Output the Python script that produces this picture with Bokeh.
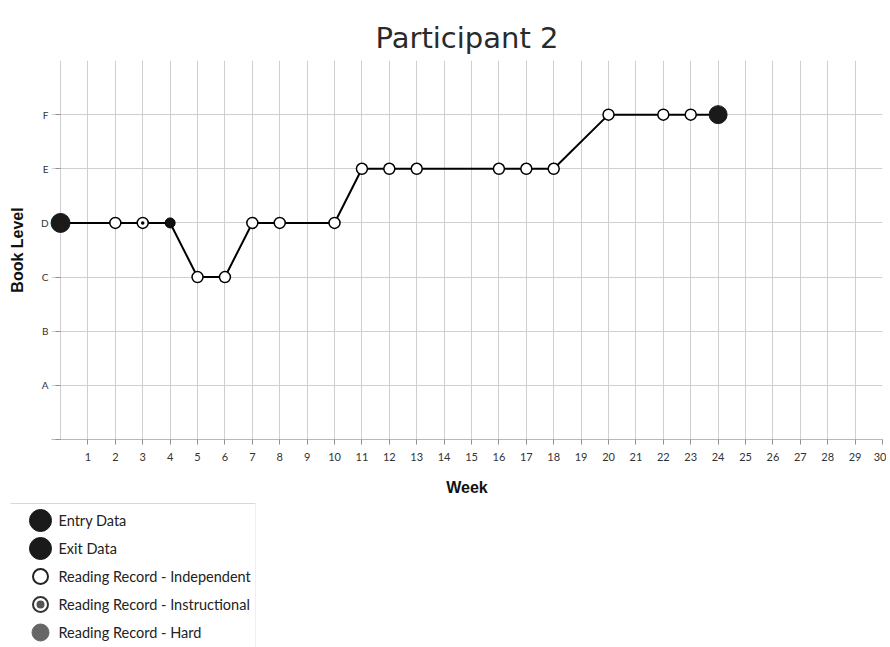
from bokeh.plotting import figure
from bokeh.models import Range1d, FixedTicker, Title, ColumnDataSource
from bokeh.layouts import column
from bokeh.embed import file_html
from bokeh.resources import INLINE
from bokeh.core.properties import value

# ---- data ----
weeks = [0, 2, 3, 4, 5, 6, 7, 8, 10, 11, 12, 13, 16, 17, 18, 20, 22, 23, 24]
levels = ["D", "D", "D", "D", "C", "C", "D", "D", "D", "E", "E", "E", "E", "E", "E", "F", "F", "F", "F"]
kinds = ["entry", "independent", "instructional", "hard", "independent", "independent",
         "independent", "independent", "independent", "independent", "independent",
         "independent", "independent", "independent", "independent", "independent",
         "independent", "independent", "exit"]
level_names = ["A", "B", "C", "D", "E", "F"]
week_ticks = list(range(1, 31))
legend_labels = ["Entry Data", "Exit Data", "Reading Record - Independent",
                 "Reading Record - Instructional", "Reading Record - Hard"]
legend_kinds = ["entry", "exit", "independent", "instructional", "hard"]
title_text = "Participant 2"

level_num = {name: i + 1 for i, name in enumerate(level_names)}
yvals = [level_num[l] for l in levels]

def pick(kind):
    xs = [w for w, k in zip(weeks, kinds) if k == kind]
    ys = [y for y, k in zip(yvals, kinds) if k == kind]
    return xs, ys

FONT = "Lato"

p = figure(width=886, height=498, output_backend="svg", toolbar_location=None,
           x_range=Range1d(-0.33, 30), y_range=Range1d(0, 7),
           min_border_left=51, min_border_right=4, min_border_top=60, min_border_bottom=59)
p.frame_align = False
p.background_fill_color = "white"
p.border_fill_color = "white"
p.outline_line_color = None

p.xaxis.ticker = FixedTicker(ticks=week_ticks)
p.yaxis.ticker = FixedTicker(ticks=[0] + [level_num[n] for n in level_names])
p.yaxis.major_label_overrides = {0: "", **{level_num[n]: n for n in level_names}}
for ax in (p.xaxis, p.yaxis):
    ax.axis_line_color = "#b8b8b8"
    ax.major_tick_line_color = "#909090"
    ax.minor_tick_line_color = None
    ax.major_label_text_font = FONT
    ax.major_label_text_color = "#333333"
    ax.axis_label_text_font = "Liberation Sans"
    ax.axis_label_text_font_style = "bold"
    ax.axis_label_text_font_size = "16px"
    ax.axis_label_text_color = "#111111"
p.xaxis.major_tick_in = 0
p.xaxis.major_tick_out = 5
p.yaxis.axis_line_color = None
p.yaxis.major_tick_in = 9
p.yaxis.major_tick_out = -4
p.xaxis.major_label_text_font_size = "11px"
p.yaxis.major_label_text_font_size = "10px"
p.xaxis.major_label_standoff = 8
p.yaxis.major_label_standoff = 3
p.xaxis.axis_label = "Week"
p.yaxis.axis_label = "Book Level"
p.xaxis.axis_label_standoff = 15
p.yaxis.axis_label_standoff = 12

p.xgrid.ticker = FixedTicker(ticks=[0] + week_ticks)
p.ygrid.ticker = FixedTicker(ticks=[level_num[n] for n in level_names] + [7])
p.grid.grid_line_color = "#cfcfcf"
p.grid.grid_line_width = 1

p.title = Title(text=title_text, align="center", text_font="DejaVu Sans",
                text_font_size="29px", text_font_style="normal", text_color="#2a2a2a",
                standoff=12)

p.line(weeks, yvals, line_color="black", line_width=2)

xs, ys = pick("independent")
p.scatter(xs, ys, size=11, marker="circle", fill_color="white", line_color="black", line_width=1.5)
xs, ys = pick("instructional")
p.scatter(xs, ys, size=11, marker="circle", fill_color="white", line_color="black", line_width=1.5)
p.scatter(xs, ys, size=3.5, marker="circle", fill_color="black", line_color=None)
xs, ys = pick("hard")
p.scatter(xs, ys, size=10, marker="circle", fill_color="#111111", line_color="black", line_width=1)
xs, ys = pick("entry")
r_entry = p.scatter(xs, ys, size=19, marker="circle", fill_color="#1a1a1a", line_color="#1a1a1a")
r_entry.level = "overlay"
xs, ys = pick("exit")
p.scatter(xs, ys, size=18, marker="circle", fill_color="#1a1a1a", line_color="#1a1a1a")

# ---- legend panel ----
LH = 149
lg = figure(width=886, height=LH, output_backend="svg", toolbar_location=None,
            x_range=Range1d(0, 886), y_range=Range1d(LH, 0),
            min_border=0)
lg.frame_align = False
lg.axis.visible = False
lg.grid.visible = False
lg.outline_line_color = None
lg.background_fill_color = "white"
lg.border_fill_color = "white"

lg.line([10, 255], [5, 5], line_color="#d8d8d8", line_width=1)
lg.line([255, 255], [5, LH], line_color="#efefef", line_width=1)

row_y = [22 + 28 * i for i in range(len(legend_labels))]
mx = 40
ymap = dict(zip(legend_kinds, row_y))
lg.scatter([mx], [ymap["entry"]], size=22, fill_color="#1a1a1a", line_color="#1a1a1a")
lg.scatter([mx], [ymap["exit"]], size=22, fill_color="#1a1a1a", line_color="#1a1a1a")
lg.scatter([mx], [ymap["independent"]], size=15, fill_color="white", line_color="#222222", line_width=2)
lg.scatter([mx], [ymap["instructional"]], size=15, fill_color="white", line_color="#333333", line_width=2)
lg.scatter([mx], [ymap["instructional"]], size=8, fill_color="#555555", line_color=None)
lg.scatter([mx], [ymap["hard"]], size=17, fill_color="#666666", line_color="#666666")

src = ColumnDataSource(dict(x=[mx + 18] * len(legend_labels), y=row_y, t=legend_labels))
lg.text(x="x", y="y", text="t", source=src, text_font=value(FONT), text_font_size="14.5px",
        text_baseline="middle", text_align="left", text_color="#222222")

layout = column(p, lg, spacing=0)
open("out.html", "w").write(file_html(layout, INLINE))
